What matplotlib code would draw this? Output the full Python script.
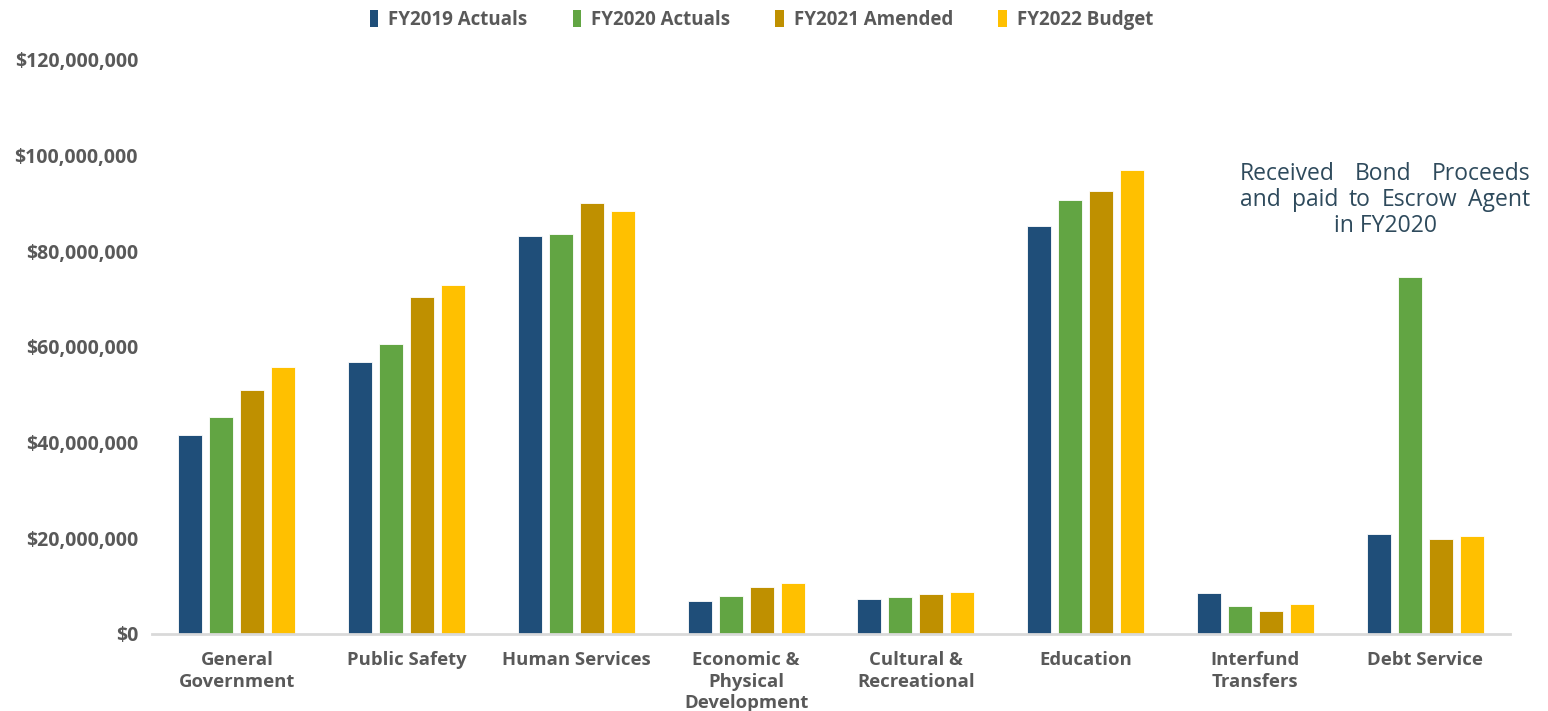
import matplotlib
matplotlib.use("Agg")
import matplotlib.pyplot as plt
import numpy as np
from matplotlib.ticker import FuncFormatter

categories = ["General\nGovernment", "Public Safety", "Human Services",
              "Economic &\nPhysical\nDevelopment", "Cultural &\nRecreational",
              "Education", "Interfund\nTransfers", "Debt Service"]
series_names = ["FY2019 Actuals", "FY2020 Actuals", "FY2021 Amended", "FY2022 Budget"]
fy2019 = [41.7, 56.9, 83.3, 6.8, 7.3, 85.4, 8.5, 20.9]
fy2020 = [45.4, 60.7, 83.7, 7.9, 7.8, 90.8, 5.9, 74.7]
fy2021 = [51.0, 70.5, 90.0, 9.8, 8.4, 92.7, 4.9, 19.9]
fy2022 = [55.9, 73.0, 88.5, 10.6, 8.7, 97.1, 6.3, 20.4]
colors = ["#1F4E79", "#62A543", "#BF9000", "#FFC000"]
yticks = [0, 20, 40, 60, 80, 100, 120]
note_lines = ["Received Bond Proceeds", "and paid to Escrow Agent", "in FY2020"]

plt.rcParams["font.family"] = ["Open Sans", "DejaVu Sans"]
text_gray = "#595959"

fig = plt.figure(figsize=(15.48, 7.11), dpi=100)
ax = fig.add_axes([152 / 1548, 77 / 711, 1358 / 1548, 574 / 711])

x = np.arange(len(categories))
step = 0.1827
width = 0.1414
all_series = [fy2019, fy2020, fy2021, fy2022]
for i, (vals, name, col) in enumerate(zip(all_series, series_names, colors)):
    offs = (i - 1.5) * step
    ax.bar(x + offs, np.array(vals) * 1e6, width, color=col, label=name,
           edgecolor="white", linewidth=0.6, zorder=3)

ax.set_xlim(-0.5, len(categories) - 0.5)
ax.set_ylim(0, 120e6)
ax.set_yticks([v * 1e6 for v in yticks])
ax.yaxis.set_major_formatter(FuncFormatter(lambda v, p: f"${v:,.0f}"))
ax.set_xticks(x)
ax.set_xticklabels(categories, fontsize=13.3, fontweight="bold", color=text_gray,
                   linespacing=1.23)
for lab in ax.get_yticklabels():
    lab.set_fontsize(14)
    lab.set_fontweight("bold")
    lab.set_color(text_gray)
ax.tick_params(axis="both", length=0)
ax.tick_params(axis="y", pad=10)
ax.tick_params(axis="x", pad=12.5)
for s in ["top", "right", "left"]:
    ax.spines[s].set_visible(False)
ax.spines["bottom"].set_color("#D9D9D9")
ax.spines["bottom"].set_linewidth(2)
ax.spines["bottom"].set_zorder(4)

leg = fig.legend(loc="center", bbox_to_anchor=(0.492, 1 - 20 / 711), ncol=4,
                 frameon=False, prop={"size": 13.5, "weight": "bold"},
                 handlelength=0.45, handleheight=1.0, handletextpad=0.55,
                 columnspacing=2.4, borderpad=0)
for t in leg.get_texts():
    t.set_color(text_gray)
for h in leg.legend_handles:
    h.set_edgecolor("none")

# Justified note above the debt service bars
fig.canvas.draw()
renderer = fig.canvas.get_renderer()
left_px, right_px = 1240, 1530
line_y = [174, 200, 226]
note_kw = dict(fontsize=16.5, color="#2E4A5C", fontweight="normal",
               va="center")
for li, (line, yy) in enumerate(zip(note_lines, line_y)):
    yf = 1 - yy / 711
    if li == len(note_lines) - 1:
        fig.text((left_px + right_px) / 2 / 1548, yf, line, ha="center", **note_kw)
        continue
    words = line.split()
    objs = [fig.text(0, yf, w, ha="left", **note_kw) for w in words]
    widths = [o.get_window_extent(renderer).width for o in objs]
    gap = (right_px - left_px - sum(widths)) / (len(words) - 1)
    pos = left_px
    for o, w in zip(objs, widths):
        o.set_x(pos / 1548)
        pos += w + gap

fig.savefig("out.png", dpi=100)
